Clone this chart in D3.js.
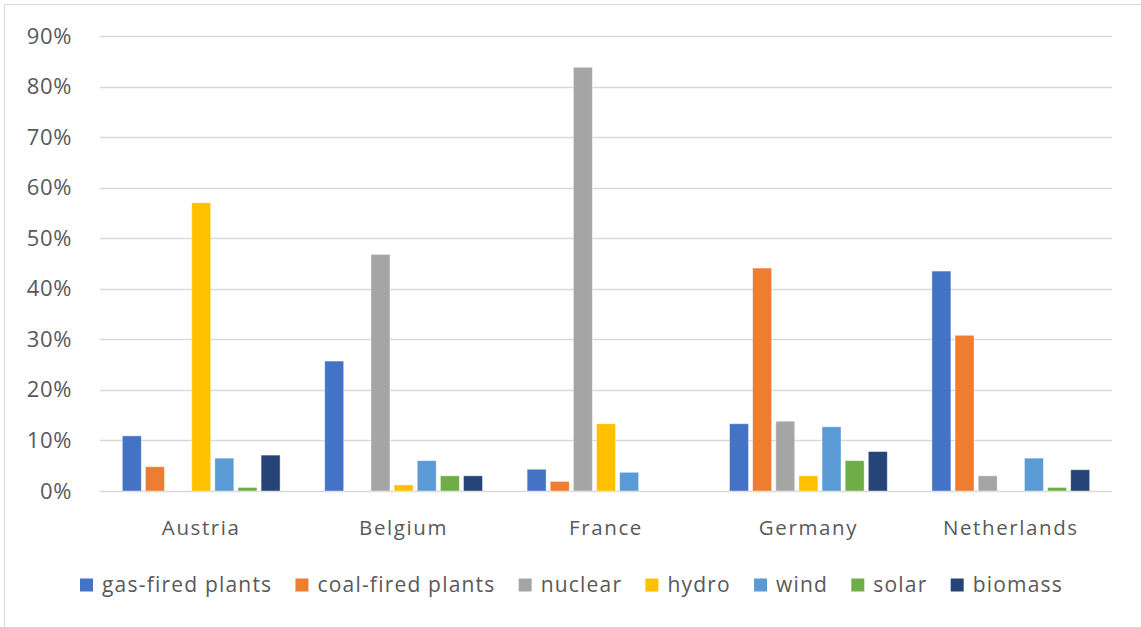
<!DOCTYPE html>
<html>
<head>
<meta charset="utf-8">
<script src="https://cdn.jsdelivr.net/npm/d3@7"></script>
<style>
  html, body { margin: 0; padding: 0; background: #fff; }
  svg { display: block; font-family: "Open Sans", "Noto Sans", sans-serif; }
</style>
</head>
<body>
<svg id="chart" width="1141" height="627"></svg>
<script>
// Electricity generation mix by source, share of total
const countries = ["Austria", "Belgium", "France", "Germany", "Netherlands"];
const sources = ["gas-fired plants", "coal-fired plants", "nuclear", "hydro", "wind", "solar", "biomass"];
const colors = ["#4472C4", "#ED7D31", "#A5A5A5", "#FFC000", "#5B9BD5", "#70AD47", "#264478"];

const gasFired  = [0.109, 0.257, 0.043, 0.133, 0.435];
const coalFired = [0.048, 0.000, 0.019, 0.441, 0.308];
const nuclear   = [0.000, 0.468, 0.838, 0.138, 0.030];
const hydro     = [0.570, 0.012, 0.133, 0.030, 0.000];
const wind      = [0.065, 0.060, 0.037, 0.127, 0.065];
const solar     = [0.007, 0.030, 0.000, 0.060, 0.007];
const biomass   = [0.071, 0.030, 0.000, 0.078, 0.042];
const seriesValues = [gasFired, coalFired, nuclear, hydro, wind, solar, biomass];

const yTicks = [0, 0.1, 0.2, 0.3, 0.4, 0.5, 0.6, 0.7, 0.8, 0.9];

const svg = d3.select("#chart");
const W = 1141, H = 627;
const plot = { left: 100, right: 1112, top: 36, bottom: 491 };
const textColor = "#595959";

// chart frame
svg.append("rect")
  .attr("x", 4.5).attr("y", 4.5)
  .attr("width", W + 10).attr("height", H + 10)
  .attr("fill", "#fff").attr("stroke", "#d9d9d9").attr("stroke-width", 1);

const x0 = d3.scaleBand().domain(countries).range([plot.left, plot.right]).paddingInner(0).paddingOuter(0);
const x1 = d3.scaleBand().domain(sources)
  .range([x0.bandwidth() * 0.1, x0.bandwidth() * 0.9])
  .paddingInner(0.18).paddingOuter(0.09);
const y = d3.scaleLinear().domain([0, 0.9]).range([plot.bottom, plot.top]);

// horizontal gridlines
svg.append("g")
  .selectAll("line")
  .data(yTicks)
  .join("line")
  .attr("x1", plot.left).attr("x2", plot.right)
  .attr("y1", d => Math.round(y(d)) + 0.5).attr("y2", d => Math.round(y(d)) + 0.5)
  .attr("stroke", "#d9d9d9").attr("stroke-width", 1.5);

// y axis labels
const yAxis = d3.axisLeft(y).tickValues(yTicks).tickFormat(d3.format(".0%")).tickSize(0).tickPadding(0);
const yg = svg.append("g").attr("transform", `translate(${plot.left - 28},0)`).call(yAxis);
yg.select(".domain").remove();
yg.selectAll("text")
  .attr("fill", textColor)
  .style("font-size", "22px")
  .style("letter-spacing", "0.6px")
  .style("font-family", "\"Open Sans\", sans-serif");

// bars
const groups = svg.append("g")
  .selectAll("g")
  .data(countries)
  .join("g")
  .attr("transform", d => `translate(${x0(d)},0)`);

groups.selectAll("rect")
  .data((c, ci) => sources.map((s, si) => ({ source: s, value: seriesValues[si][ci], color: colors[si] })))
  .join("rect")
  .filter(d => d.value > 0)
  .attr("x", d => x1(d.source))
  .attr("width", x1.bandwidth())
  .attr("y", d => y(d.value))
  .attr("height", d => y(0) - y(d.value))
  .attr("fill", d => d.color)
  .attr("stroke", "#ffffff")
  .attr("stroke-opacity", 0.5)
  .attr("stroke-width", 0.8);

// category labels
const xAxis = d3.axisBottom(x0).tickSize(0).tickPadding(0);
const xg = svg.append("g").attr("transform", `translate(0,${plot.bottom + 29})`).call(xAxis);
xg.select(".domain").remove();
xg.selectAll("text")
  .attr("fill", textColor)
  .style("font-size", "20.5px")
  .style("letter-spacing", "1.6px")
  .style("font-family", "\"Open Sans\", sans-serif");

// legend
const legend = svg.append("g").attr("transform", `translate(0,585)`);
const items = legend.selectAll("g")
  .data(sources)
  .join("g");
items.append("rect")
  .attr("width", 13).attr("height", 13)
  .attr("y", -6.5)
  .attr("fill", (d, i) => colors[i]);
items.append("text")
  .attr("x", 22)
  .attr("dy", "0.35em")
  .attr("fill", textColor)
  .style("font-size", "21px")
  .style("letter-spacing", "1.2px")
  .text(d => d);

const widths = [];
items.each(function () {
  widths.push(22 + d3.select(this).select("text").node().getComputedTextLength());
});
const legendLeft = 80, legendRight = 1063;
const gap = (legendRight - legendLeft - d3.sum(widths)) / (widths.length - 1);
let cursor = legendLeft;
items.attr("transform", (d, i) => {
  const t = `translate(${cursor},0)`;
  cursor += widths[i] + gap;
  return t;
});
</script>
</body>
</html>
